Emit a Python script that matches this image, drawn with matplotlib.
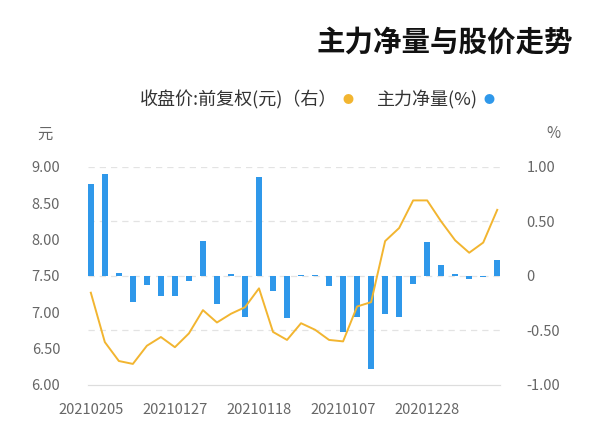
import matplotlib
matplotlib.use("Agg")
import matplotlib.pyplot as plt

plt.rcParams['font.family'] = ['Noto Sans CJK SC', 'DejaVu Sans']

# chronological order (earliest first); the picture runs right to left
dates = [
    "20201221", "20201222", "20201223", "20201224", "20201225", "20201228",
    "20201229", "20201230", "20201231", "20210104", "20210105", "20210107",
    "20210108", "20210111", "20210112", "20210113", "20210114", "20210118",
    "20210119", "20210120", "20210121", "20210122", "20210125", "20210127",
    "20210128", "20210129", "20210201", "20210202", "20210203", "20210205",
]
net_volume = [  # 主力净量 (%)
    0.15, -0.01, -0.03, 0.02, 0.10, 0.31,
    -0.07, -0.38, -0.35, -0.855, -0.38, -0.51,
    -0.09, 0.01, 0.005, -0.39, -0.14, 0.91,
    -0.38, 0.02, -0.26, 0.32, -0.05, -0.18,
    -0.18, -0.08, -0.24, 0.03, 0.935, 0.84,
]
close_price = [  # 收盘价:前复权 (元)
    8.41, 7.96, 7.82, 7.99, 8.25, 8.54,
    8.54, 8.16, 7.98, 7.14, 7.08, 6.60,
    6.62, 6.76, 6.85, 6.62, 6.73, 7.33,
    7.07, 6.98, 6.86, 7.03, 6.71, 6.52,
    6.66, 6.54, 6.29, 6.33, 6.59, 7.27,
]
label_idx = [5, 11, 17, 23, 29]
pct_ticks = [-1.0, -0.5, 0.0, 0.5, 1.0]
pct_labels = ["-1.00", "-0.50", "0", "0.50", "1.00"]
price_ticks = [6.0, 6.5, 7.0, 7.5, 8.0, 8.5, 9.0]

blue = "#2f98ea"
gold = "#f2b530"
tick_gray = "#666666"

fig = plt.figure(figsize=(6, 4.46), dpi=100)
ax = fig.add_axes([0.1467, 0.1368, 0.6867, 0.4888])
ax2 = ax.twinx()

x = list(range(len(dates)))

# bars (%) on primary axis, shown on the right
ax.bar(x, net_volume, width=0.43, color=blue, zorder=3)
ax.set_ylim(-1.0, 1.0)
ax.set_yticks(pct_ticks)
ax.set_yticklabels(pct_labels)
ax.yaxis.tick_right()
for t in pct_ticks[1:]:
    ax.axhline(t, color="#e3e3e3", linewidth=0.9, linestyle=(0, (5, 4)), zorder=1)

# price line on secondary axis, shown on the left
ax2.plot(x, close_price, color=gold, linewidth=1.4, zorder=4)
ax2.set_ylim(6.0, 9.0)
ax2.set_yticks(price_ticks)
ax2.set_yticklabels([f"{v:.2f}" for v in price_ticks])
ax2.yaxis.tick_left()

ax.set_xlim(29.2, -0.2)
ax.set_xticks(label_idx)
ax.set_xticklabels([dates[i] for i in label_idx])

for a in (ax, ax2):
    for s in ("top", "left", "right"):
        a.spines[s].set_visible(False)
    a.spines["bottom"].set_color("#dddddd")
    a.tick_params(length=0, colors=tick_gray, labelsize=10.5)
ax.tick_params(axis="y", pad=19)
ax2.tick_params(axis="y", pad=20)
ax.tick_params(axis="x", pad=13)

fig.text(0.075, 0.700, "元", fontsize=11, color=tick_gray, ha="center", va="center")
fig.text(0.922, 0.700, "%", fontsize=11, color=tick_gray, ha="center", va="center")

fig.text(0.955, 0.905, "主力净量与股价走势", fontsize=20.5, fontweight="bold",
         color="#111111", ha="right", va="center")

# legend row
fig.text(0.797, 0.776, "主力净量(%)", fontsize=13, color="#333333", ha="right", va="center")
fig.text(0.815, 0.776, "●", fontsize=8, color=blue, ha="center", va="center")
fig.text(0.562, 0.776, "收盘价:前复权(元)（右）", fontsize=13, color="#333333",
         ha="right", va="center")
fig.text(0.580, 0.776, "●", fontsize=8, color=gold, ha="center", va="center")

fig.savefig("out.png", dpi=100, facecolor="white")
